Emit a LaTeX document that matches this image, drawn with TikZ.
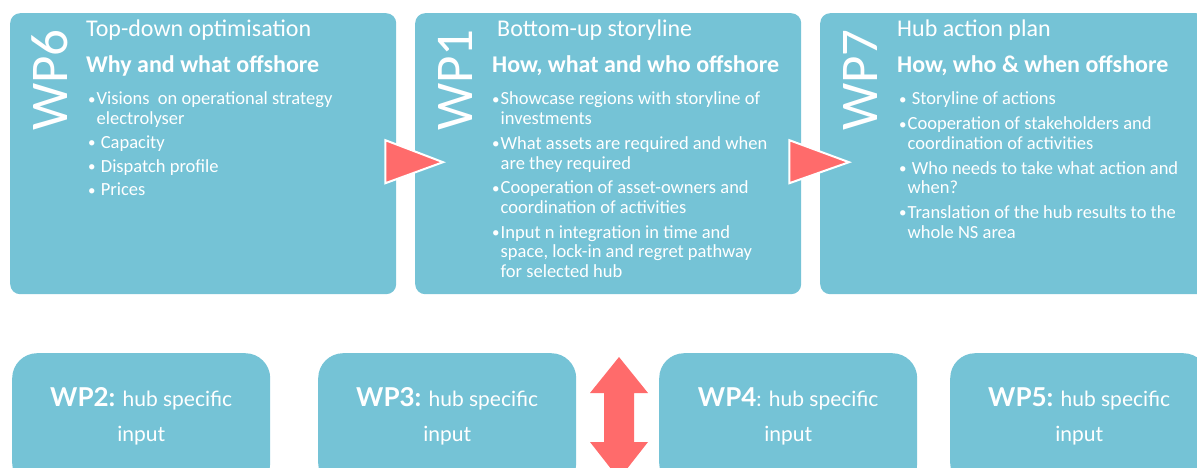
\documentclass[tikz,border=0pt]{standalone}
\usepackage{fontspec}
\setmainfont{Carlito}
\newfontfamily\latofont{Lato}
\usetikzlibrary{calc}
\definecolor{boxblue}{HTML}{75C3D6}
\definecolor{arrowred}{HTML}{FF6B6B}

% bullet with a fixed width so that wrapped lines line up with the text
\newcommand{\bul}{\makebox[8.5pt][l]{\fontsize{15}{15}\selectfont\raisebox{0.5pt}{•}}}
\newcommand{\hang}{\hspace*{8.5pt}}
% a list block whose reference point is the baseline of its first line
\newenvironment{wplist}{\begin{tabular}[t]{@{}l@{}}}{\end{tabular}}
\newenvironment{inlist}{\begin{tabular}[t]{@{}c@{}}}{\end{tabular}}

\begin{document}
\begin{tikzpicture}[x=1pt,y=-1pt,
  wpbox/.style={fill=boxblue, draw=none, rounded corners=10pt, inner sep=0pt,
    minimum width=386pt, minimum height=281pt, anchor=north west},
  inbox/.style={fill=boxblue, draw=none, rounded corners=25pt, inner sep=0pt,
    minimum width=258pt, minimum height=135pt, anchor=north west},
  wplabel/.style={rotate=90, anchor=base west, inner sep=0pt, text=white,
    font=\fontsize{53}{53}\selectfont},
  wptitle/.style={anchor=base west, inner sep=0pt, text=white,
    font=\fontsize{24}{26}\selectfont},
  wpquestion/.style={anchor=base west, inner sep=0pt, text=white,
    font=\fontsize{24}{26}\selectfont\bfseries},
  wpbody/.style={anchor=base west, inner sep=0pt, text=white,
    font=\fontsize{18.5}{19.7}\selectfont},
  intext/.style={inner sep=0pt, text=white, anchor=base,
    font=\latofont\fontsize{21}{35}\selectfont},
  wpnum/.style={font=\latofont\fontsize{26}{35}\selectfont\bfseries},
  flowtri/.style={fill=arrowred, draw=white, line width=2pt, line join=miter},
  dblarrow/.style={fill=arrowred, draw=none}
]
\useasboundingbox (0,0) rectangle (1197,468);
\clip (0,0) rectangle (1197,468);

% work package boxes, top row
\node[wpbox] (wp6) at (10,13) {};
\node[wpbox] (wp1) at (415,13) {};
\node[wpbox] (wp7) at (820,13) {};

% work package boxes, bottom row
\node[inbox] (wp2) at (12,353) {};
\node[inbox] (wp3) at (318,353) {};
\node[inbox] (wp4) at (659,353) {};
\node[inbox] (wp5) at (950,353) {};

% WP6
\node[wplabel] (l6) at ($(wp6.north west)+(57,118)$) {WP6};
\node[wptitle] (t6) at ($(wp6.north west)+(76,24)$) {Top-down optimisation};
\node[wpquestion] (q6) at ($(wp6.north west)+(76,60)$) {Why and what offshore};
\node[wpbody] (b6) at ($(wp6.north west)+(78,92)$) {\begin{wplist}
  \bul Visions\ \ on operational strategy\\
  \hang electrolyser\\[4pt]
  \bul\ Capacity\\[4pt]
  \bul\ Dispatch profile\\[4pt]
  \bul\ Prices
\end{wplist}};

% WP1
\node[wplabel] (l1) at ($(wp1.north west)+(57,118)$) {WP1};
\node[wptitle] (t1) at ($(wp1.north west)+(82,24)$) {Bottom-up storyline};
\node[wpquestion] (q1) at ($(wp1.north west)+(77,60)$) {How, what and who offshore};
\node[wpbody] (b1) at ($(wp1.north west)+(77,92)$) {\begin{wplist}
  \bul Showcase regions with storyline of\\
  \hang investments\\[5pt]
  \bul What assets are required and when\\
  \hang are they required\\[5pt]
  \bul Cooperation of asset-owners and\\
  \hang coordination of activities\\[5pt]
  \bul Input n integration in time and\\
  \hang space, lock-in and regret pathway\\
  \hang for selected hub
\end{wplist}};

% WP7
\node[wplabel] (l7) at ($(wp7.north west)+(57,118)$) {WP7};
\node[wptitle] (t7) at ($(wp7.north west)+(77,24)$) {Hub action plan};
\node[wpquestion] (q7) at ($(wp7.north west)+(77,60)$) {How, who \& when offshore};
\node[wpbody] (b7) at ($(wp7.north west)+(79,92)$) {\begin{wplist}
  \bul\ Storyline of actions\\[5pt]
  \bul Cooperation of stakeholders and\\
  \hang coordination of activities\\[5pt]
  \bul\ Who needs to take what action and\\
  \hang when?\\[5pt]
  \bul Translation of the hub results to the\\
  \hang whole NS area
\end{wplist}};

% input packages
\node[intext] (i2) at ($(wp2.north)+(0,53)$) {\begin{inlist}{\tikzset{}\latofont\fontsize{26}{35}\selectfont\bfseries WP2:} hub specific\\input\end{inlist}};
\node[intext] (i3) at ($(wp3.north)+(0,53)$) {\begin{inlist}{\latofont\fontsize{26}{35}\selectfont\bfseries WP3:} hub specific\\input\end{inlist}};
\node[intext] (i4) at ($(wp4.north)+(0,53)$) {\begin{inlist}{\latofont\fontsize{26}{35}\selectfont\bfseries WP4}: hub specific\\input\end{inlist}};
\node[intext] (i5) at ($(wp5.north)+(0,53)$) {\begin{inlist}{\latofont\fontsize{26}{35}\selectfont\bfseries WP5:} hub specific\\input\end{inlist}};

% flow from WP6 to WP1 and from WP1 to WP7
\draw[flowtri] ($(wp6.east)+(-11,-13.5)$) -- ($(wp1.west)+(28,8.5)$)
  -- ($(wp6.east)+(-11,29.5)$) -- cycle;
\draw[flowtri] ($(wp1.east)+(-12,-13.5)$) -- ($(wp7.west)+(29,8.5)$)
  -- ($(wp1.east)+(-12,29.5)$) -- cycle;

% exchange between the hub inputs and the storyline
\coordinate (top) at (619,357);
\coordinate (bot) at (619,479);
\fill[dblarrow] (top) -- ($(top)+(29,36)$) -- ($(top)+(15,36)$)
  -- ($(bot)+(15,-37)$) -- ($(bot)+(29,-37)$) -- (bot)
  -- ($(bot)+(-29,-37)$) -- ($(bot)+(-15,-37)$)
  -- ($(top)+(-15,36)$) -- ($(top)+(-29,36)$) -- cycle;
\end{tikzpicture}
\end{document}
